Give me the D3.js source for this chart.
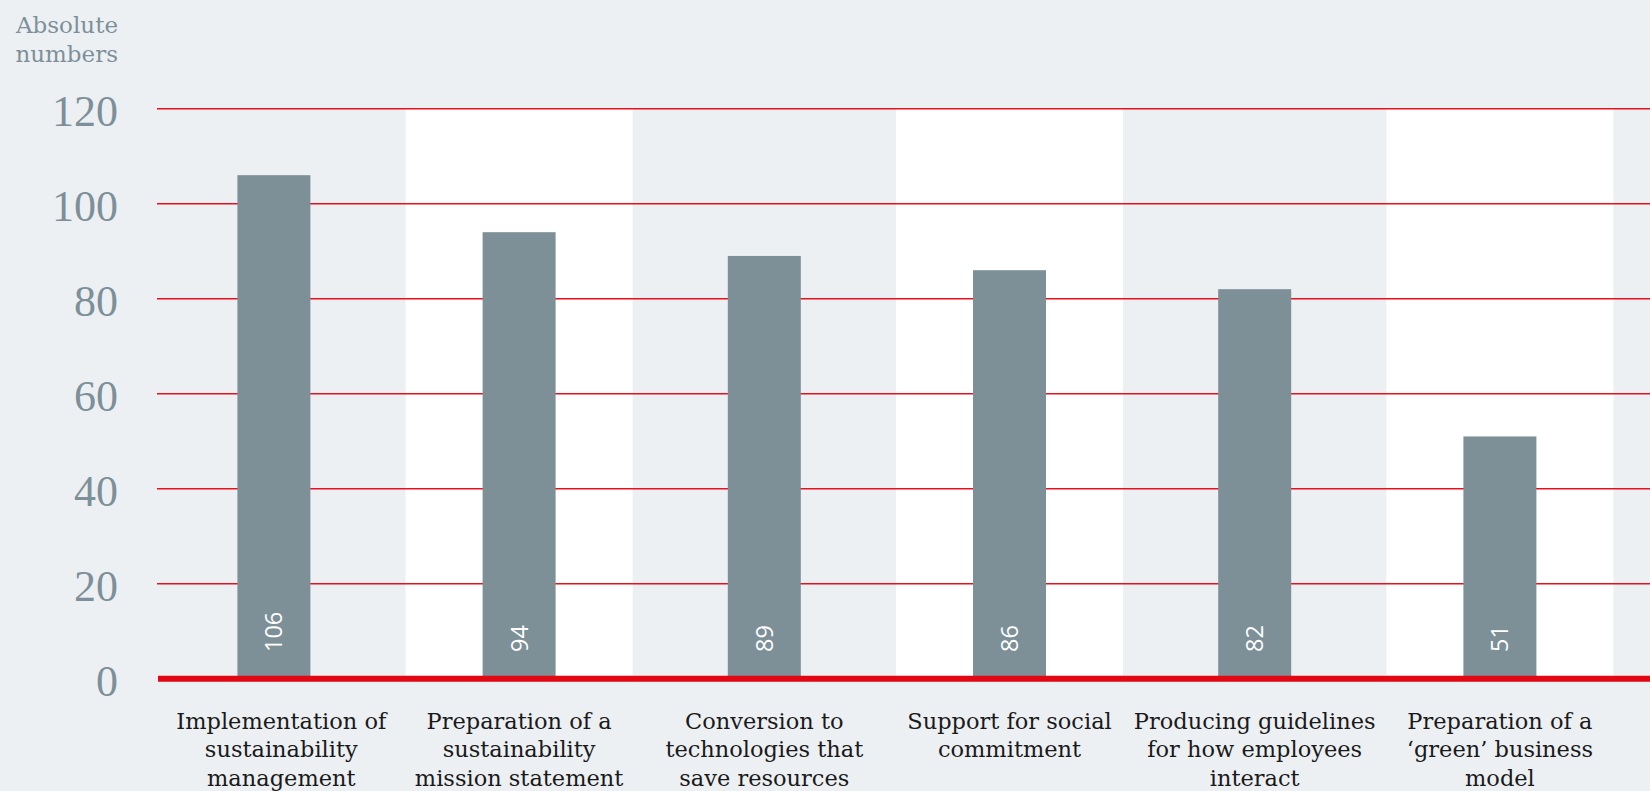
<!DOCTYPE html>
<html>
<head>
<meta charset="utf-8">
<script src="https://cdn.jsdelivr.net/npm/d3@7"></script>
<style>
  html, body { margin: 0; padding: 0; background: #edf0f3; }
  svg { display: block; }
</style>
</head>
<body>
<svg id="chart" width="1650" height="791"></svg>
<script>
const categories = ["impl", "mission", "conversion", "social", "guidelines", "green"];
const values = [106, 94, 89, 86, 82, 51];
const labelLines = [
  ["Implementation of", "sustainability", "management"],
  ["Preparation of a", "sustainability", "mission statement"],
  ["Conversion to", "technologies that", "save resources"],
  ["Support for social", "commitment"],
  ["Producing guidelines", "for how employees", "interact"],
  ["Preparation of a", "\u2018green\u2019 business", "model"]
];
const yTicks = [0, 20, 40, 60, 80, 100, 120];
const yTitle = ["Absolute", "numbers"];

const W = 1650, H = 791;
const svg = d3.select("#chart");
svg.append("rect").attr("width", W).attr("height", H).attr("fill", "#edf0f3");

const plotLeft = 157;
const y = d3.scaleLinear().domain([0, 120]).range([678.7, 108.7]);
const x = d3.scaleBand().domain(categories).range([151.3, 1622.5]).padding(0);
const cx = c => x(c) + x.bandwidth() / 2;
const barW = 73, stripeW = 227;

// alternating white stripes
svg.append("g").selectAll("rect")
  .data(categories.filter((c, i) => i % 2 === 1))
  .join("rect")
  .attr("x", c => cx(c) - stripeW / 2)
  .attr("y", y(120))
  .attr("width", stripeW)
  .attr("height", y(0) - y(120))
  .attr("fill", "#ffffff");

// gridlines
svg.append("g").selectAll("line")
  .data(yTicks.filter(t => t > 0))
  .join("line")
  .attr("x1", plotLeft).attr("x2", W)
  .attr("y1", d => y(d)).attr("y2", d => y(d))
  .attr("stroke", "#e8101c").attr("stroke-width", 1.5);

// bars
svg.append("g").selectAll("rect")
  .data(categories)
  .join("rect")
  .attr("x", c => cx(c) - barW / 2)
  .attr("y", (c, i) => y(values[i]))
  .attr("width", barW)
  .attr("height", (c, i) => y(0) - y(values[i]))
  .attr("fill", "#7d9098");

// value labels (rotated)
svg.append("g").selectAll("text")
  .data(categories)
  .join("text")
  .attr("transform", c => `translate(${cx(c)},652) rotate(-90)`)
  .attr("dy", "0.36em")
  .attr("text-anchor", "start")
  .attr("font-family", "'Open Sans', 'DejaVu Sans', sans-serif")
  .attr("font-size", 23.5)
  .attr("fill", "#ffffff")
  .text((c, i) => values[i]);

// baseline
svg.append("line")
  .attr("x1", plotLeft + 1).attr("x2", W)
  .attr("y1", y(0)).attr("y2", y(0))
  .attr("stroke", "#e30613").attr("stroke-width", 6);

// y axis labels
const yAxis = d3.axisLeft(y).tickValues(yTicks).tickSize(0).tickPadding(0).tickFormat(d3.format("d"));
const gy = svg.append("g").attr("transform", "translate(118,0)").call(yAxis);
gy.select(".domain").remove();
gy.selectAll("text")
  .attr("font-family", "'Liberation Serif', serif")
  .attr("font-size", 44)
  .attr("fill", "#7d9099")
  .attr("dy", "0.38em");

// y title
svg.append("text")
  .attr("text-anchor", "end")
  .attr("font-family", "'DejaVu Serif', serif")
  .attr("font-size", 23)
  .attr("fill", "#7d9099")
  .selectAll("tspan")
  .data(yTitle)
  .join("tspan")
  .attr("x", 118)
  .attr("y", (d, i) => 32.5 + i * 29)
  .text(d => d);

// category labels: centred in each column area (between stripe edges)
const colCenter = (c, i) => {
  if (i === 0) {
    const next = categories[1];
    return (plotLeft + cx(next) - stripeW / 2) / 2;
  }
  return cx(c);
};
const lab = svg.append("g").selectAll("text")
  .data(categories)
  .join("text")
  .attr("text-anchor", "middle")
  .attr("font-family", "'DejaVu Serif', serif")
  .attr("font-size", 22.5)
  .attr("fill", "#1a1a1a");
lab.selectAll("tspan")
  .data((c, i) => labelLines[i].map(t => ({ t, x: colCenter(c, i) })))
  .join("tspan")
  .attr("x", d => d.x)
  .attr("y", (d, j) => 729 + j * 28.4)
  .text(d => d.t);
</script>
</body>
</html>
